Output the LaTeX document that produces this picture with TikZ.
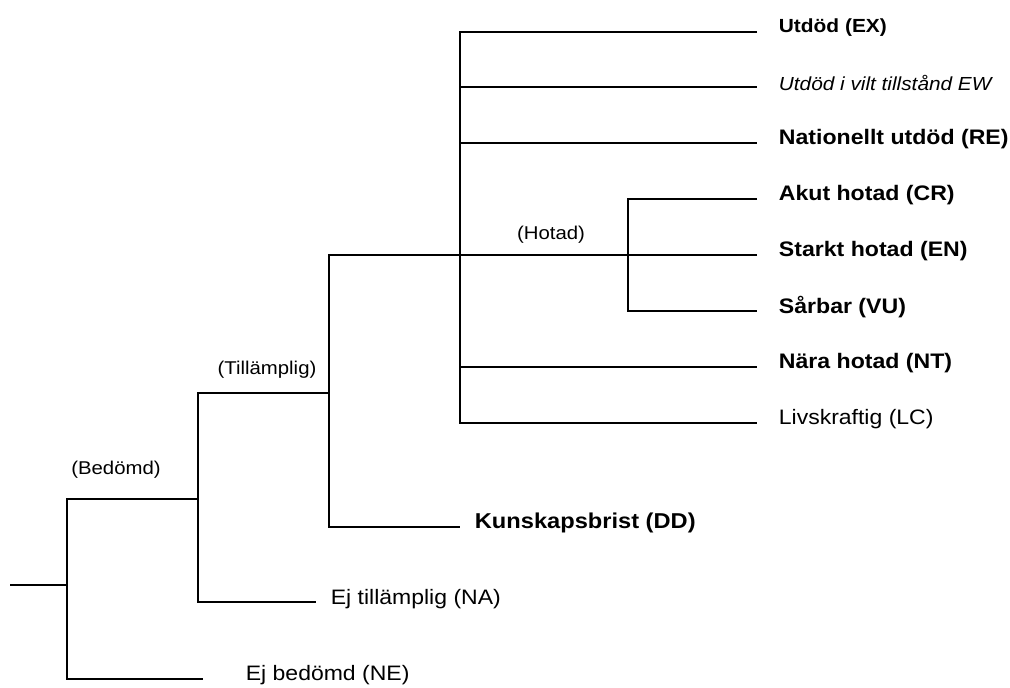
\documentclass[tikz,border=0pt]{standalone}
\usepackage{fontspec}
\setmainfont{Liberation Sans}[FakeStretch=1.1]
\begin{document}
\begin{tikzpicture}[x=1pt,y=-1pt,line width=1.8pt,
  leaf/.style={anchor=west,inner sep=0pt,font=\fontsize{20.9}{24}\selectfont},
  leafb/.style={leaf,font=\fontsize{21}{24}\selectfont\bfseries},
  branchlbl/.style={inner sep=0pt,font=\fontsize{18.5}{22}\selectfont}]
\useasboundingbox (0,0) rectangle (1010,688);
% coordinates
\coordinate (r0) at (10,585);
\coordinate (r1) at (67,585);
\coordinate (bS) at (67,499);  \coordinate (bE) at (198,499);
\coordinate (neS) at (67,679); \coordinate (neE) at (203,679);
\coordinate (tS) at (198,393); \coordinate (tE) at (329,393);
\coordinate (naS) at (198,602); \coordinate (naE) at (316,602);
\coordinate (hS) at (329,255); \coordinate (hE) at (757,255);
\coordinate (ddS) at (329,527); \coordinate (ddE) at (460,527);
\coordinate (exS) at (460,32);  \coordinate (exE) at (757,32);
\coordinate (ewS) at (460,87);  \coordinate (ewE) at (757,87);
\coordinate (reS) at (460,143); \coordinate (reE) at (757,143);
\coordinate (ntS) at (460,367); \coordinate (ntE) at (757,367);
\coordinate (lcS) at (460,423); \coordinate (lcE) at (757,423);
\coordinate (crS) at (628,199); \coordinate (crE) at (757,199);
\coordinate (vuS) at (628,311); \coordinate (vuE) at (757,311);
% lines
\draw (r0) -- (r1);
\draw (bE) -- (bS) -- (neS) -- (neE);
\draw (tE) -- (tS) -- (naS) -- (naE);
\draw (hE) -- (hS) -- (ddS) -- (ddE);
\draw (exE) -- (exS) -- (lcS) -- (lcE);
\draw (ewS) -- (ewE);
\draw (reS) -- (reE);
\draw (ntS) -- (ntE);
\draw (crE) -- (crS) -- (vuS) -- (vuE);
% branch labels
\node[branchlbl] (lbed) at (116,470) {(Bedömd)};
\node[branchlbl] (ltil) at (267,370) {(Tillämplig)};
\node[branchlbl] (lhot) at (551,235) {(Hotad)};
% leaf labels
\node[leaf,font=\fontsize{19}{22}\selectfont\bfseries] (ex) at (778,28) {Utdöd (EX)};
\node[leaf,font=\fontsize{18.9}{22}\selectfont\itshape] (ew) at (778,83) {Utdöd i vilt tillstånd EW};
\node[leafb] (re) at (778,139) {Nationellt utdöd (RE)};
\node[leafb] (cr) at (778,195) {Akut hotad (CR)};
\node[leafb] (en) at (778,251) {Starkt hotad (EN)};
\node[leafb] (vu) at (778,307) {Sårbar (VU)};
\node[leafb] (nt) at (778,363) {Nära hotad (NT)};
\node[leaf] (lc) at (778,419) {Livskraftig (LC)};
\node[leafb,font=\fontsize{21.5}{25}\selectfont\bfseries] (dd) at (474,523) {Kunskapsbrist (DD)};
\node[leaf] (na) at (330,599) {Ej tillämplig (NA)};
\node[leaf] (ne) at (245,675) {Ej bedömd (NE)};
\end{tikzpicture}
\end{document}
